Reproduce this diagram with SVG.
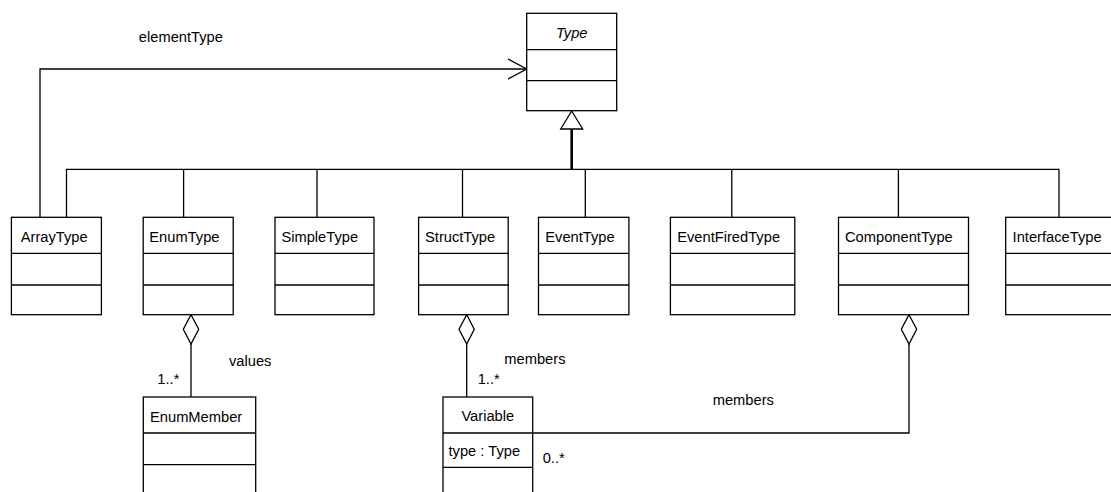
<svg xmlns="http://www.w3.org/2000/svg" width="1111" height="492" viewBox="0 0 1111 492">
  <defs>
    <style>
      .box { fill: #fff; stroke: #000; stroke-width: 1.3; }
      .div { stroke: #000; stroke-width: 1.3; }
      .edge { fill: none; stroke: #000; stroke-width: 1.3; }
      .thick { fill: none; stroke: #000; stroke-width: 2.6; }
      text { font-family: "Liberation Sans", Arial, sans-serif; font-size: 14.7px; fill: #000; }
      .it { font-style: italic; }
      .diamond { fill: #fff; stroke: #000; stroke-width: 1.3; }
    </style>
    <marker id="open-arrow" markerUnits="userSpaceOnUse" markerWidth="24" markerHeight="24" refX="19" refY="11" orient="auto">
      <path d="M0,0.8 L19,11 L0,21.2" fill="none" stroke="#000" stroke-width="1.3"/>
    </marker>
  </defs>

  <!-- connectors -->
  <g id="connectors">
    <!-- generalization tree -->
    <path class="edge" d="M66.5,217.3 V169.3 H1059 V217.3 M183.6,169.3 V217.3 M317,169.3 V217.3 M462.5,169.3 V217.3 M585.3,169.3 V217.3 M731.8,169.3 V217.3 M898.4,169.3 V217.3"/>
    <path class="thick" d="M571.7,129 V169.3"/>
    <polygon class="diamond" points="571.7,111 582.7,129 560.7,129"/>
    <!-- elementType association -->
    <path class="edge" d="M40,217.3 V69 H526.7" marker-end="url(#open-arrow)"/>
    <text x="138.8" y="41.5">elementType</text>
    <!-- EnumType values -->
    <path class="edge" d="M191,344 V397"/>
    <polygon class="diamond" points="191,314.7 198.7,329.3 191,344 183.3,329.3"/>
    <text x="229" y="366">values</text>
    <text x="157.3" y="384">1..*</text>
    <!-- StructType members -->
    <path class="edge" d="M466.7,344 V397"/>
    <polygon class="diamond" points="466.7,314.7 474.3,329.3 466.7,344 459,329.3"/>
    <text x="504.3" y="364.3">members</text>
    <text x="477.7" y="384">1..*</text>
    <!-- ComponentType members -->
    <path class="edge" d="M532.7,433 H909 V344"/>
    <polygon class="diamond" points="909,314.7 916.7,329.3 909,344 901.3,329.3"/>
    <text x="712.7" y="405">members</text>
    <text x="542.7" y="463.3">0..*</text>
  </g>

  <g id="Type">
    <rect class="box" x="526.7" y="13.3" width="90" height="97.4"/>
    <line class="div" x1="526.7" y1="49.7" x2="616.7" y2="49.7"/>
    <line class="div" x1="526.7" y1="80.7" x2="616.7" y2="80.7"/>
    <text class="it" x="571.7" y="38.3" text-anchor="middle">Type</text>
  </g>

  <g id="ArrayType">
    <rect class="box" x="11.4" y="217.3" width="90" height="97.4"/>
    <line class="div" x1="11.4" y1="253.3" x2="101.4" y2="253.3"/>
    <line class="div" x1="11.4" y1="285" x2="101.4" y2="285"/>
    <text x="20.7" y="241.7">ArrayType</text>
  </g>

  <g id="EnumType">
    <rect class="box" x="143.2" y="217.3" width="90" height="97.4"/>
    <line class="div" x1="143.2" y1="253.3" x2="233.2" y2="253.3"/>
    <line class="div" x1="143.2" y1="285" x2="233.2" y2="285"/>
    <text x="149.3" y="241.7">EnumType</text>
  </g>

  <g id="SimpleType">
    <rect class="box" x="275" y="217.3" width="99" height="97.4"/>
    <line class="div" x1="275" y1="253.3" x2="374" y2="253.3"/>
    <line class="div" x1="275" y1="285" x2="374" y2="285"/>
    <text x="281.4" y="241.7">SimpleType</text>
  </g>

  <g id="StructType">
    <rect class="box" x="418.6" y="217.3" width="89.6" height="97.4"/>
    <line class="div" x1="418.6" y1="253.3" x2="508.2" y2="253.3"/>
    <line class="div" x1="418.6" y1="285" x2="508.2" y2="285"/>
    <text x="425" y="241.7">StructType</text>
  </g>

  <g id="EventType">
    <rect class="box" x="538.5" y="217.3" width="90.4" height="97.4"/>
    <line class="div" x1="538.5" y1="253.3" x2="628.9" y2="253.3"/>
    <line class="div" x1="538.5" y1="285" x2="628.9" y2="285"/>
    <text x="545.3" y="241.7">EventType</text>
  </g>

  <g id="EventFiredType">
    <rect class="box" x="670.4" y="217.3" width="124.4" height="97.4"/>
    <line class="div" x1="670.4" y1="253.3" x2="794.8" y2="253.3"/>
    <line class="div" x1="670.4" y1="285" x2="794.8" y2="285"/>
    <text x="677.2" y="241.7">EventFiredType</text>
  </g>

  <g id="ComponentType">
    <rect class="box" x="838.5" y="217.3" width="130" height="97.4"/>
    <line class="div" x1="838.5" y1="253.3" x2="968.5" y2="253.3"/>
    <line class="div" x1="838.5" y1="285" x2="968.5" y2="285"/>
    <text x="845" y="241.7">ComponentType</text>
  </g>

  <g id="InterfaceType">
    <rect class="box" x="1005.7" y="217.3" width="107" height="97.4"/>
    <line class="div" x1="1005.7" y1="253.3" x2="1112.7" y2="253.3"/>
    <line class="div" x1="1005.7" y1="285" x2="1112.7" y2="285"/>
    <text x="1012.6" y="241.7">InterfaceType</text>
  </g>

  <g id="EnumMember">
    <rect class="box" x="143.3" y="397" width="112.4" height="100"/>
    <line class="div" x1="143.3" y1="433" x2="255.7" y2="433"/>
    <line class="div" x1="143.3" y1="464.7" x2="255.7" y2="464.7"/>
    <text x="150" y="421.7">EnumMember</text>
  </g>

  <g id="Variable">
    <rect class="box" x="443" y="397" width="89.7" height="100"/>
    <line class="div" x1="443" y1="433" x2="532.7" y2="433"/>
    <line class="div" x1="443" y1="467.3" x2="532.7" y2="467.3"/>
    <text x="487.8" y="420.7" text-anchor="middle">Variable</text>
    <text x="448.5" y="455.5">type : Type</text>
  </g>
</svg>
